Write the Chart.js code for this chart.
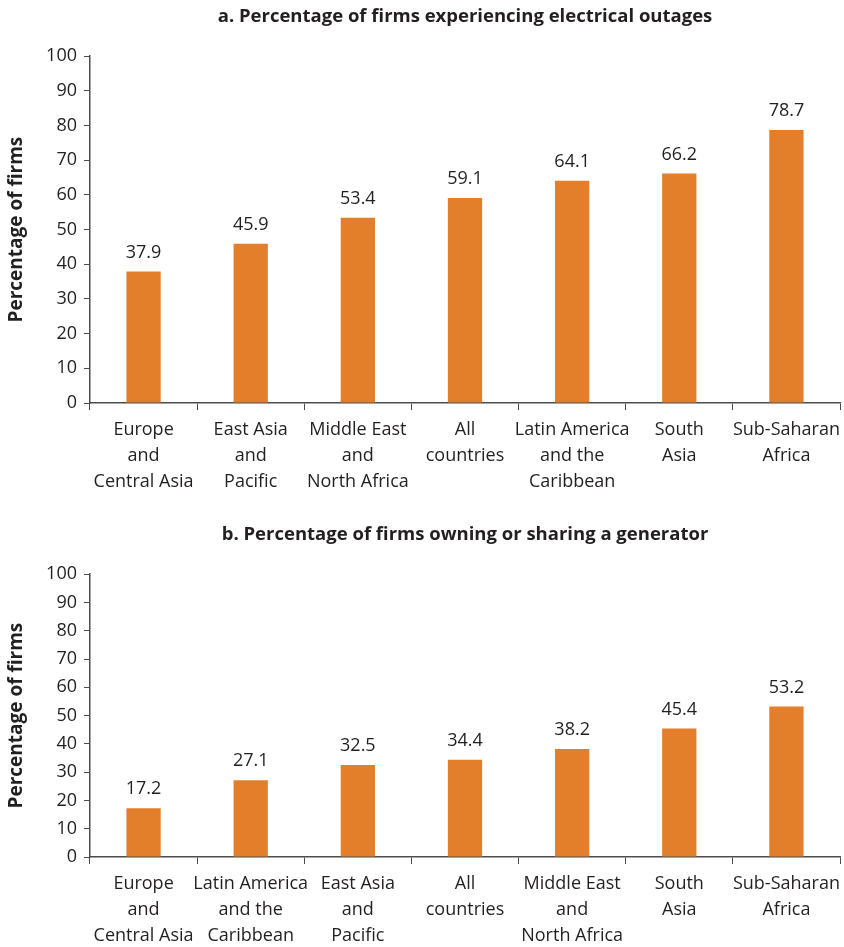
<!DOCTYPE html>
<html>
<head>
<meta charset="utf-8">
<script src="https://cdn.jsdelivr.net/npm/chart.js@4/dist/chart.umd.min.js"></script>
<style>
    body { margin: 0; background: #fff; }
    canvas { position: absolute; left: 0; }
    #chartA { top: 0; }
    #chartB { top: 518px; }
</style>
</head>
<body>
<canvas id="chartA" width="844" height="505"></canvas>
<canvas id="chartB" width="844" height="429"></canvas>
<script>
const outageRegions = [
    ['Europe', 'and', 'Central Asia'],
    ['East Asia', 'and', 'Pacific'],
    ['Middle East', 'and', 'North Africa'],
    ['All', 'countries'],
    ['Latin America', 'and the', 'Caribbean'],
    ['South', 'Asia'],
    ['Sub-Saharan', 'Africa']
];
const outageValues = [37.9, 45.9, 53.4, 59.1, 64.1, 66.2, 78.7];

const generatorRegions = [
    ['Europe', 'and', 'Central Asia'],
    ['Latin America', 'and the', 'Caribbean'],
    ['East Asia', 'and', 'Pacific'],
    ['All', 'countries'],
    ['Middle East', 'and', 'North Africa'],
    ['South', 'Asia'],
    ['Sub-Saharan', 'Africa']
];
const generatorValues = [17.2, 27.1, 32.5, 34.4, 38.2, 45.4, 53.2];

const FONT = "'Open Sans', 'Noto Sans', sans-serif";
const TEXT = '#231f20';
const AXIS = '#4d4d4d';
const BAR = '#e37e2b';

// draws the value above each bar
const valueLabels = {
    id: 'valueLabels',
    afterDatasetsDraw(chart) {
        const ctx = chart.ctx;
        const meta = chart.getDatasetMeta(0);
        ctx.save();
        ctx.font = '18px ' + FONT;
        ctx.fillStyle = TEXT;
        ctx.textAlign = 'center';
        ctx.textBaseline = 'bottom';
        meta.data.forEach((bar, i) => {
            ctx.fillText(chart.data.datasets[0].data[i].toFixed(1), bar.x, bar.y - 10);
        });
        ctx.restore();
    }
};

function makeChart(id, title, labels, values, xHeight) {
    return new Chart(document.getElementById(id), {
        type: 'bar',
        data: {
            labels: labels,
            datasets: [{
                data: values,
                backgroundColor: BAR,
                barPercentage: 0.64,
                categoryPercentage: 0.5
            }]
        },
        options: {
            responsive: false,
            animation: false,
            layout: { padding: { left: 0, right: 4, top: 0, bottom: 0 } },
            plugins: {
                legend: { display: false },
                tooltip: { enabled: false },
                title: {
                    display: true,
                    fullSize: false, // center over the plot area, not the canvas
                    text: title,
                    color: TEXT,
                    font: { family: FONT, size: 18.5, weight: 'bold' },
                    padding: { top: 6, bottom: 28 }
                }
            },
            scales: {
                x: {
                    grid: { offset: true, drawOnChartArea: false, tickLength: 7, color: AXIS },
                    border: { color: AXIS, width: 1.5 },
                    ticks: {
                        color: TEXT,
                        font: { family: FONT, size: 18, lineHeight: 1.45 },
                        maxRotation: 0,
                        autoSkip: false,
                        padding: 7
                    },
                    afterFit(scale) {
                        scale.height = xHeight;
                        // let the last label hang into the right margin
                        scale.paddingLeft = 0;
                        scale.paddingRight = 0;
                    }
                },
                y: {
                    min: 0,
                    max: 100,
                    grid: { drawOnChartArea: false, tickLength: 6, color: AXIS },
                    border: { color: AXIS, width: 1.5 },
                    ticks: {
                        stepSize: 10,
                        color: TEXT,
                        font: { family: FONT, size: 18 },
                        padding: 7
                    },
                    title: {
                        display: true,
                        text: 'Percentage of firms',
                        color: TEXT,
                        font: { family: FONT, size: 19, weight: 'bold' },
                        padding: { top: 5, bottom: 0 }
                    },
                    afterFit(scale) { scale.width = 90; }
                }
            }
        },
        plugins: [valueLabels]
    });
}

makeChart('chartA', 'a. Percentage of firms experiencing electrical outages', outageRegions, outageValues, 102);
makeChart('chartB', 'b. Percentage of firms owning or sharing a generator', generatorRegions, generatorValues, 90);
</script>
</body>
</html>
